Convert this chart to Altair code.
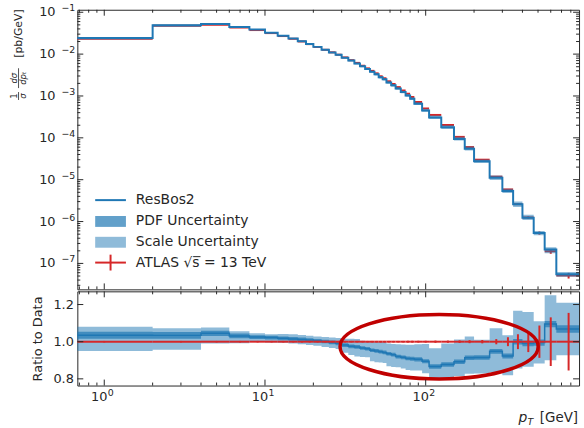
import altair as alt
import pandas as pd

# ---------------- data ----------------
edges = [0, 2, 4, 6, 8, 10, 12, 14, 16, 18, 20, 22.5, 25, 27.5, 30, 33, 36, 39, 42, 45,
         48, 51, 54, 57, 61, 65, 70, 75, 80, 85, 95, 105, 125, 150, 175, 200, 250, 300,
         350, 400, 470, 550, 650, 900]

resbos = [0.0242, 0.049, 0.0525, 0.0445, 0.0385, 0.0325, 0.0275, 0.0236, 0.0203, 0.0175,
          0.0149, 0.0127, 0.0110, 0.0096,
          0.0082, 0.0070, 0.0060, 0.0051, 0.0044, 0.0038, 0.0033, 0.0028, 0.0025,
          0.0021, 0.0018, 0.00150, 0.00124, 0.00103, 0.00086,
          0.00065, 0.00045, 0.000305, 0.000178, 9.4e-5, 5.5e-5,
          2.75e-5, 1.12e-5, 5.4e-6, 2.6e-6, 1.24e-6, 5.3e-7, 2.14e-7, 5.5e-8]

ratio_c = [1.035, 1.034, 1.045, 1.030, 1.025, 1.022, 1.018, 1.015, 1.012, 1.009,
           1.005, 1.001, 0.996, 0.991,
           0.982, 0.975, 0.972, 0.966, 0.962, 0.954, 0.950, 0.946, 0.942,
           0.935, 0.930, 0.920, 0.916, 0.910, 0.908,
           0.905, 0.895, 0.866, 0.877, 0.892, 0.914,
           0.915, 0.948, 0.923, 1.000, 0.990, 0.995, 1.095, 1.068]
pdf_lo = [1.016, 1.016, 1.031, 1.019, 1.015, 1.012, 1.008, 1.005, 1.002, 0.999,
          0.995, 0.991, 0.986, 0.981,
          0.972, 0.965, 0.962, 0.956, 0.952, 0.944, 0.940, 0.936, 0.932,
          0.925, 0.920, 0.910, 0.906, 0.900, 0.897,
          0.894, 0.884, 0.854, 0.865, 0.880, 0.902,
          0.903, 0.935, 0.910, 0.985, 0.975, 0.978, 1.078, 1.048]
pdf_hi = [1.054, 1.052, 1.059, 1.044, 1.035, 1.032, 1.028, 1.025, 1.022, 1.019,
          1.015, 1.011, 1.006, 1.001,
          0.992, 0.985, 0.982, 0.976, 0.972, 0.964, 0.960, 0.956, 0.952,
          0.945, 0.940, 0.930, 0.926, 0.920, 0.919,
          0.916, 0.906, 0.878, 0.889, 0.904, 0.926,
          0.927, 0.961, 0.936, 1.015, 1.005, 1.012, 1.112, 1.088]
scale_lo = [0.950, 0.957, 0.990, 0.992, 0.998, 0.996, 0.994, 0.990, 0.986, 0.982,
            0.978, 0.972, 0.966, 0.960,
            0.940, 0.928, 0.920, 0.918, 0.916, 0.895, 0.890, 0.888, 0.885,
            0.868, 0.864, 0.862, 0.856, 0.848, 0.845,
            0.845, 0.830, 0.795, 0.805, 0.815, 0.828,
            0.829, 0.835, 0.820, 0.856, 0.865, 0.883, 0.900, 0.927]
scale_hi = [1.080, 1.073, 1.077, 1.056, 1.045, 1.040, 1.042, 1.040, 1.036, 1.032,
            1.028, 1.025, 1.022, 1.020,
            1.016, 1.016, 1.014, 1.005, 1.002, 1.002, 1.000, 1.000, 0.998,
            0.990, 0.988, 0.986, 0.985, 0.984, 0.984,
            0.986, 0.988, 0.965, 0.990, 1.012, 1.028,
            1.010, 1.073, 1.034, 1.167, 1.160, 1.110, 1.250, 1.210]
data_err = [0.004, 0.004, 0.004, 0.004, 0.004, 0.004, 0.004, 0.004, 0.004, 0.004,
            0.004, 0.004, 0.004, 0.004,
            0.004, 0.004, 0.004, 0.004, 0.004, 0.004, 0.004, 0.004, 0.004,
            0.004, 0.004, 0.004, 0.004, 0.005, 0.005,
            0.005, 0.005, 0.006, 0.006, 0.007, 0.008,
            0.009, 0.014, 0.024, 0.040, 0.056, 0.087, 0.131, 0.155]

legend_labels = ["ResBos2", "PDF Uncertainty", "Scale Uncertainty",
                 "ATLAS \u221as = 13 TeV"]
x_major = [1, 10, 100]
x_label_exps = ["0", "1", "2"]
x_minor = [0.7, 0.8, 0.9, 2, 3, 4, 5, 6, 7, 8, 9, 20, 30, 40, 50, 60, 70, 80, 90,
           200, 300, 400, 500, 600, 700, 800]
y_top_major = [1e-7, 1e-6, 1e-5, 1e-4, 1e-3, 1e-2, 1e-1]
y_top_exps = ["\u22127", "\u22126", "\u22125", "\u22124", "\u22123", "\u22122", "\u22121"]
ratio_ticks = [0.8, 1.0, 1.2]
ellipse_center = {"px": [121.2], "py": [0.973]}

# ---------------- layout / style ----------------
XMIN, XMAX = 0.68, 900
YTOP = [2.4e-8, 0.1148]
YRAT = [0.764, 1.271]
W, H1, H2 = 506, 282, 95
BLUE, RED, RING, INK = "#1f77b4", "#d62728", "#c00000", "#262626"
FONT = "DejaVu Sans"

y_top_minor = [k * 10.0 ** e for e in range(-8, 0) for k in range(2, 10)
               if YTOP[0] <= k * 10.0 ** e <= YTOP[1]]

xs = alt.Scale(type="log", domain=[XMIN, XMAX], nice=False)
ys_top = alt.Scale(type="log", domain=YTOP, nice=False)
ys_rat = alt.Scale(domain=YRAT, nice=False, zero=False)

n = len(resbos)
lo = [max(e, XMIN) for e in edges[:-1]]
hi = edges[1:]
ctr = [(a + b) / 2 for a, b in zip(edges[:-1], edges[1:])]
data_top = [m / r for m, r in zip(resbos, ratio_c)]

bins = pd.DataFrame({
    "lo": lo, "hi": hi, "ctr": ctr, "data": data_top,
    "dlo": [d * (1 - e) for d, e in zip(data_top, data_err)],
    "dhi": [d * (1 + e) for d, e in zip(data_top, data_err)],
    "one": [1.0] * n,
    "rlo": [1 - e for e in data_err],
    "rhi": [1 + e for e in data_err],
})

step = pd.DataFrame({
    "x": lo + [hi[-1]],
    "m": resbos + [resbos[-1]],
    "rc": ratio_c + [ratio_c[-1]],
    "plo": pdf_lo + [pdf_lo[-1]],
    "phi": pdf_hi + [pdf_hi[-1]],
    "slo": scale_lo + [scale_lo[-1]],
    "shi": scale_hi + [scale_hi[-1]],
})
for c in ["plo", "phi", "slo", "shi"]:
    step["t_" + c] = step["m"] * step[c] / step["rc"]

one = pd.DataFrame({"k": [0]})

rat_y_axis = alt.Axis(values=ratio_ticks, format=".1f", ticks=False, tickSize=0, domain=False,
                      grid=False, title="Ratio to Data", titleFontSize=13,
                      titleFontWeight="normal", titleColor=INK, titleX=-40, titleY=H2 / 2,
                      titleAngle=270, titleAlign="center", titleBaseline="middle",
                      labelPadding=4)


def enc_x(f):
    return alt.X(f + ":Q", scale=xs, axis=None)


def enc_y(f, panel):
    if panel == "top":
        return alt.Y(f + ":Q", scale=ys_top, axis=None)
    return alt.Y(f + ":Q", scale=ys_rat, axis=rat_y_axis)


def edge_ticks(panel, ymaj, ymin, h):
    layers = []
    for vals, L in ((x_major, 6), (x_minor, 3)):
        base = alt.Chart(pd.DataFrame({"t": vals})).mark_rule(color=INK, strokeWidth=1)
        layers.append(base.encode(x=enc_x("t"), y=alt.value(h), y2=alt.value(h - L)))
        layers.append(base.encode(x=enc_x("t"), y=alt.value(0), y2=alt.value(L)))
    for vals, L in ((ymaj, 6), (ymin, 3)):
        if not vals:
            continue
        base = alt.Chart(pd.DataFrame({"t": vals})).mark_rule(color=INK, strokeWidth=1)
        layers.append(base.encode(y=enc_y("t", panel), x=alt.value(0), x2=alt.value(L)))
        layers.append(base.encode(y=enc_y("t", panel), x=alt.value(W), x2=alt.value(W - L)))
    return layers


def txt(s, x, y, size=14, align="left", baseline="middle", angle=0, style="normal"):
    return alt.Chart(one).mark_text(text=s, font=FONT, fontSize=size, color=INK,
                                    align=align, baseline=baseline, angle=angle,
                                    fontStyle=style).encode(x=alt.value(x), y=alt.value(y))


# ---------------- top panel ----------------
P = "top"
t_dh = alt.Chart(bins).mark_rule(color=RED, strokeWidth=2).encode(
    x=enc_x("lo"), x2="hi", y=enc_y("data", P))
t_dv = alt.Chart(bins).mark_rule(color=RED, strokeWidth=2).encode(
    x=enc_x("ctr"), y=enc_y("dlo", P), y2="dhi")
t_sc = alt.Chart(step).mark_area(interpolate="step-after", color=BLUE, opacity=0.5).encode(
    x=enc_x("x"), y=enc_y("t_slo", P), y2="t_shi")
t_pdf = alt.Chart(step).mark_area(interpolate="step-after", color=BLUE, opacity=0.7).encode(
    x=enc_x("x"), y=enc_y("t_plo", P), y2="t_phi")
t_line = alt.Chart(step).mark_line(interpolate="step-after", color=BLUE, strokeWidth=2).encode(
    x=enc_x("x"), y=enc_y("m", P))

ylab_df = pd.DataFrame({"v": y_top_major, "e": y_top_exps})
ylabels = [
    alt.Chart(ylab_df).mark_text(text="10", font=FONT, fontSize=13, color=INK, align="right",
                                 baseline="middle").encode(
        x=alt.value(-22), y=enc_y("v", P)),
    alt.Chart(ylab_df).mark_text(font=FONT, fontSize=9.5, color=INK, align="right",
                                 baseline="middle", dy=-4).encode(
        x=alt.value(-2), y=enc_y("v", P), text="e:N"),
]

legend = [
    alt.Chart(one).mark_rule(color=BLUE, strokeWidth=2).encode(
        x=alt.value(18), x2=alt.value(49), y=alt.value(192)),
    alt.Chart(one).mark_rect(color=BLUE, opacity=0.7).encode(
        x=alt.value(18), x2=alt.value(49), y=alt.value(208), y2=alt.value(219)),
    alt.Chart(one).mark_rect(color=BLUE, opacity=0.5).encode(
        x=alt.value(18), x2=alt.value(49), y=alt.value(229), y2=alt.value(240)),
    alt.Chart(one).mark_rule(color=RED, strokeWidth=2).encode(
        x=alt.value(18), x2=alt.value(49), y=alt.value(255)),
    alt.Chart(one).mark_rule(color=RED, strokeWidth=2).encode(
        x=alt.value(33.5), y=alt.value(247), y2=alt.value(263)),
    # overline of the "s" under the square root
    alt.Chart(one).mark_rule(color=INK, strokeWidth=1).encode(
        x=alt.value(116.8), x2=alt.value(124.2), y=alt.value(249)),
]
for lab, yy in zip(legend_labels, [192, 213.5, 234.5, 255]):
    legend.append(txt(lab, 59, yy))

ytitle = [
    txt("[pb/GeV]", -58.5, 24, size=11, align="center", angle=270),
    txt("d\u03c3", -63.5, 69, size=8.5, align="center", angle=270, style="italic"),
    txt("dp\u209c", -54.5, 69, size=8.5, align="center", angle=270, style="italic"),
    alt.Chart(one).mark_rule(color=INK, strokeWidth=0.8).encode(
        x=alt.value(-59.3), y=alt.value(59), y2=alt.value(79)),
    txt("1", -63.5, 87, size=8.5, align="center", angle=270),
    txt("\u03c3", -54.5, 87, size=8.5, align="center", angle=270, style="italic"),
    alt.Chart(one).mark_rule(color=INK, strokeWidth=0.8).encode(
        x=alt.value(-59.3), y=alt.value(83), y2=alt.value(91)),
    # invisible extent anchor: fixes the outer left/top bounds of the layout
    alt.Chart(one).mark_rule(color="white", strokeWidth=1).encode(
        x=alt.value(-76.5), x2=alt.value(-76.5), y=alt.value(-6.5), y2=alt.value(-5.5)),
]

top = alt.layer(t_dh, t_dv, t_sc, t_pdf, t_line,
                *edge_ticks(P, y_top_major, y_top_minor, H1),
                *ylabels, *legend, *ytitle).properties(width=W, height=H1)

# ---------------- ratio panel ----------------
P = "bottom"
r_sc = alt.Chart(step).mark_area(interpolate="step-after", color=BLUE, opacity=0.5).encode(
    x=enc_x("x"), y=enc_y("slo", P), y2="shi")
r_pdf = alt.Chart(step).mark_area(interpolate="step-after", color=BLUE, opacity=0.7).encode(
    x=enc_x("x"), y=enc_y("plo", P), y2="phi")
r_line = alt.Chart(step).mark_line(interpolate="step-after", color=BLUE, strokeWidth=1.5).encode(
    x=enc_x("x"), y=enc_y("rc", P))
r_dh = alt.Chart(bins).mark_rule(color=RED, strokeWidth=2).encode(
    x=enc_x("lo"), x2="hi", y=enc_y("one", P))
r_dv = alt.Chart(bins).mark_rule(color=RED, strokeWidth=2).encode(
    x=enc_x("ctr"), y=enc_y("rlo", P), y2="rhi")

ELLIPSE = ("M 1 0 C 1 0.1797 0.5523 0.3253 0 0.3253 C -0.5523 0.3253 -1 0.1797 -1 0 "
           "C -1 -0.1797 -0.5523 -0.3253 0 -0.3253 C 0.5523 -0.3253 1 -0.1797 1 0 Z")
ring = alt.Chart(pd.DataFrame(ellipse_center)).mark_point(
    shape=ELLIPSE, size=39920, filled=False, color=RING, strokeWidth=3.5, opacity=1).encode(
    x=enc_x("px"), y=enc_y("py", P))

xlab_df = pd.DataFrame({"v": x_major, "e": x_label_exps})
xlabels = [
    alt.Chart(xlab_df).mark_text(text="10", font=FONT, fontSize=13, color=INK, align="center",
                                 baseline="middle", dx=-5).encode(
        x=enc_x("v"), y=alt.value(107)),
    alt.Chart(xlab_df).mark_text(font=FONT, fontSize=9.5, color=INK, align="left",
                                 baseline="middle", dx=3.5).encode(
        x=enc_x("v"), y=alt.value(103), text="e:N"),
]

xtitle = [
    txt("p", 445, 132, size=14, baseline="alphabetic", style="italic"),
    txt("T", 454, 135, size=9.5, baseline="alphabetic", style="italic"),
    txt("[GeV]", 505, 132, size=13.5, align="right", baseline="alphabetic"),
]

bottom = alt.layer(r_sc, r_pdf, r_line, r_dh, r_dv, ring,
                   *edge_ticks(P, ratio_ticks, [], H2),
                   *xlabels, *xtitle).properties(width=W, height=H2)

chart = alt.vconcat(top, bottom, spacing=0).properties(
    padding={"left": 0, "top": 0, "right": 0, "bottom": 0},
    background="white",
).configure_view(stroke=INK, strokeWidth=1).configure_axis(
    labelFont=FONT, labelFontSize=13, labelColor=INK, titleFont=FONT)

chart.save("out.html", embed_options={"renderer": "svg", "actions": False})
